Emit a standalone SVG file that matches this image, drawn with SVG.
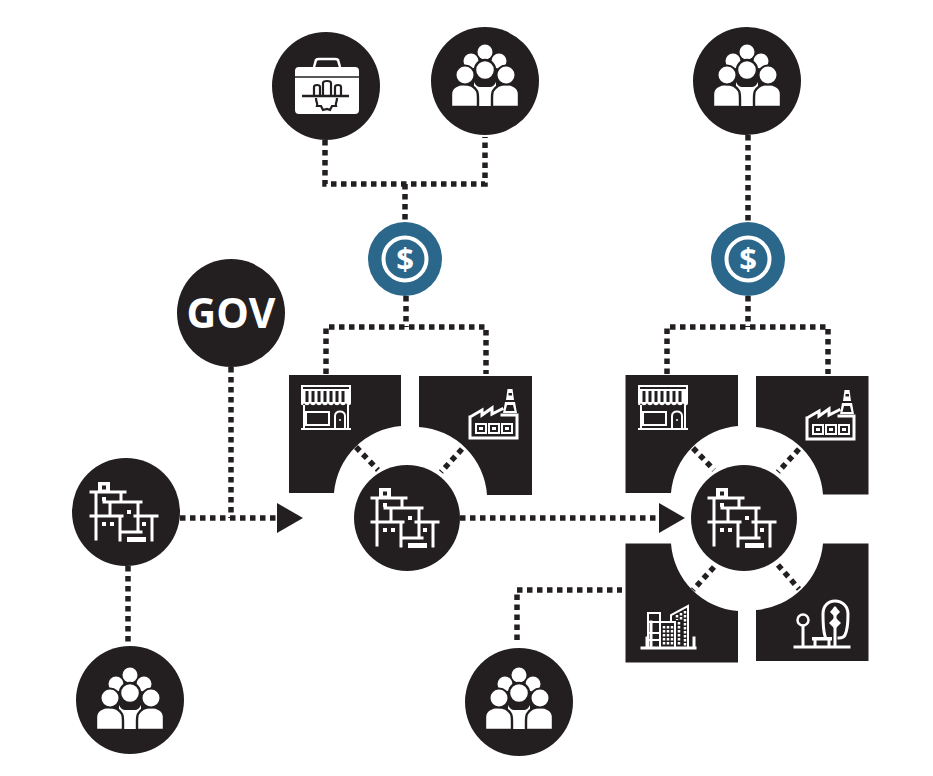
<svg xmlns="http://www.w3.org/2000/svg" xmlns:xlink="http://www.w3.org/1999/xlink" width="933" height="776" viewBox="0 0 933 776">
<style>
.k{fill:#231f20}
.b{fill:#2b678b}
.w{fill:#fff}
.s{fill:none;stroke:#fff;stroke-width:3;stroke-linecap:square}
.t{fill:none;stroke:#fff;stroke-width:2}
.d{fill:none;stroke:#231f20;stroke-width:5.5;stroke-dasharray:5.5 4.5}
.g{font-family:"Open Sans","DejaVu Sans",sans-serif;font-weight:700;text-anchor:middle}
</style>
<defs>
<g id="people">
<circle cx="0" cy="-29" r="7.5" class="w"/>
<circle cx="-14" cy="-20" r="7.5" class="w"/>
<circle cx="14" cy="-20" r="7.5" class="w"/>
<path class="w" d="M-11 1C-10 4-7 6-5 6H5C7 6 10 4 11 1L11 25H-11Z"/>
<path class="w" stroke="#231f20" stroke-width="2.4" d="M-34 26V13C-34 6-27 3-21 3C-15 3-11 5-8 10C-7 12-7 15-7 18V26Z"/>
<path class="w" stroke="#231f20" stroke-width="2.4" d="M34 26V13C34 6 27 3 21 3C15 3 11 5 8 10C7 12 7 15 7 18V26Z"/>
<circle cx="-20" cy="-6" r="9.5" class="w" stroke="#231f20" stroke-width="2"/>
<circle cx="21" cy="-6" r="9.5" class="w" stroke="#231f20" stroke-width="2"/>
<circle cx="0" cy="-11" r="10" class="w" stroke="#231f20" stroke-width="2.4"/>
</g>
<g id="village">
<rect x="-28" y="-30" width="12" height="11" class="w"/>
<rect x="-24" y="-26.500" width="4" height="4" class="k"/>
<path class="s" d="M-35-20H-1M-30-20V27M-5-20V-10M-22-10H15M-16-10V1M-35 4H-4M9 4H31M-6 4V28M12-10V20M26 4V28M-6 20H15"/>
<rect x="1" y="25" width="19" height="5" class="w"/>
<rect x="-24" y="-15" width="4" height="4" class="w"/>
<rect x="1" y="-2" width="4" height="4" class="w"/>
<rect x="-24" y="10" width="4" height="4" class="w"/>
<rect x="-16" y="10" width="4" height="4" class="w"/>
<rect x="16" y="10" width="4" height="4" class="w"/>
</g>
<g id="shop">
<path class="t" d="M-22-3V21M22-3V21M-25 21H25"/>
<path class="t" d="M-24-22H24V-18H-24Z"/>
<path class="w" d="M-25-18H25L25-5C25-2 21-2 20-5C19-2 15-2 14-5C13-2 9-2 8-5C7-2 3-2 2-5C1-2-3-2-4-5C-5-2-9-2-10-5C-11-2-15-2-16-5C-17-2-21-2-22-5C-23-2-25-2-25-5Z"/>
<path stroke="#231f20" stroke-width="3" stroke-dasharray="none" d="M-19-17V-6M-13-17V-6M-7-17V-6M-1-17V-6M5-17V-6M11-17V-6M17-17V-6" fill="none"/>
<rect x="-20" y="4" width="23" height="13" class="t"/>
<path class="t" d="M9 21V8C9 2 19 2 19 8V21"/>
<circle cx="14" cy="12" r="1" class="w"/>
</g>
<g id="factory">
<path class="s" stroke-width="2.500" d="M-24 18V-3L-12-10V-5L-2-12V-6L8-11M-24-3V18H23V-5H8"/>
<path class="w" d="M9-7L11-18H21L23-7Z"/>
<path class="k" d="M11.500-9L13-15H19L20.500-9Z"/>
<path class="w" d="M12-20L13.500-31H18.500L20-20Z"/>
<rect x="14.500" y="-27" width="3.500" height="2.500" class="k"/>
<rect x="-18" y="4" width="10" height="9" class="t"/><rect x="-15" y="7" width="4" height="3" class="w"/>
<rect x="-5" y="4" width="10" height="9" class="t"/><rect x="-2" y="7" width="4" height="3" class="w"/>
<rect x="8" y="4" width="10" height="9" class="t"/><rect x="11" y="7" width="4" height="3" class="w"/>
</g>
<g id="city">
<path class="s" d="M-26 18H27M-17-8V18M-21 17V8M26 17V8"/>
<rect x="-20" y="-17" width="12" height="35" class="t"/>
<path class="t" d="M-20-8H-8M-20 3H-8M-20 10H-8"/>
<rect x="-8" y="-8" width="15" height="26" class="t"/>
<path class="t" d="M3-9V-15L20-24V18"/>
<path stroke="#fff" stroke-width="2.500" stroke-dasharray="2.500 1.500" fill="none" d="M-4-4V16M0-4V16M4-4V16M9-15V-10M13-17V-10M17-19V16M11-8V16"/>
</g>
<g id="park">
<path class="s" d="M-21 15H33M-13-6V15M-1 7V15M13 7V15"/>
<circle cx="-13" cy="-12" r="5.500" fill="none" stroke="#fff" stroke-width="2.500"/>
<rect x="-4" y="5" width="20" height="3.500" class="w"/>
<path class="s" stroke-width="2.500" d="M9 4C7-2 7-10 7-18C7-26 12-31 19-31C26-31 32-26 32-18C32-9 31-1 29 3C28 5 25 6 23 6"/>
<path class="s" stroke-width="2.500" d="M19-23V14"/>
<path class="w" d="M19-26L24-20L19-15L14-20ZM19-15L25-9L19-3L13-9Z"/>
</g>
<g id="dollar">
<circle cx="0" cy="0" r="21.500" fill="none" stroke="#fff" stroke-width="4"/>
<text x="0" y="11" class="g" font-size="31" fill="#fff">$</text>
</g>
</defs>
<rect width="933" height="776" fill="#fff"/>
<g id="connectors">
<path class="d" d="M325 140V184H485V137M405 184V222"/>
<path class="d" d="M406 296V327M326 374V327H486V374"/>
<path class="d" d="M748 135V222M748 296V327M667 374V327H828V374"/>
<path class="d" d="M231 367V518M180 518H277"/>
<path class="d" d="M460 518H659"/>
<path class="d" d="M128 566V645"/>
<path class="d" d="M517 640V590H622"/>
<path class="d" d="M356 447L378 470M462 449L441 472"/>
<path class="d" d="M693 448L714 470M799 449L778 472M714 567L693 590M778 565L799 589"/>
<path class="k" d="M277 503L303 518L277 533Z"/>
<path class="k" d="M659 503L685 518L659 533Z"/>
</g>
<g id="toolbox"><circle cx="326" cy="86" r="54" class="k"/>
<g transform="translate(326,86)">
<path d="M-12-19L-10-26Q-9-27-7-27H9Q11-27 12-26L14-19" fill="none" stroke="#fff" stroke-width="2.500"/>
<rect x="-31" y="-19" width="64" height="47" rx="4" class="w"/>
<path d="M-31-9H33" stroke="#231f20" stroke-width="1.500"/>
<path d="M-24 10H23" stroke="#231f20" stroke-width="2.500"/>
<path d="M-12 9V1Q-12-1-9-1Q-6-1-6 1V9M-3 9V-3Q-3-5 1-5Q5-5 5-3V9M9 9V1Q9-1 12-1Q15-1 15 1V9" fill="none" stroke="#231f20" stroke-width="2.200"/>
<path d="M-10 12C-10 17-8 17-9 20L-5 20L-3 24L1 23L4 24L6 20L10 20C9 17 11 17 11 12" fill="none" stroke="#231f20" stroke-width="2.200"/>
</g></g>
<g id="people-1"><circle cx="485" cy="81" r="54" class="k"/><use href="#people" x="485" y="81"/></g>
<g id="people-2"><circle cx="747" cy="81" r="54" class="k"/><use href="#people" x="747" y="81"/></g>
<g id="fund-1"><circle cx="405" cy="259" r="37" class="b"/><use href="#dollar" x="405" y="259"/></g>
<g id="fund-2"><circle cx="748" cy="259" r="37" class="b"/><use href="#dollar" x="748" y="259"/></g>
<g id="gov"><circle cx="231" cy="313" r="54" class="k"/><text x="231" y="328" class="g" font-size="41" fill="#fff">GOV</text></g>
<g id="neighbourhood-left"><circle cx="126" cy="512" r="54" class="k"/><use href="#village" x="126" y="512"/></g>
<g id="people-3"><circle cx="130" cy="700" r="54" class="k"/><use href="#people" x="130" y="704"/></g>
<g id="people-4"><circle cx="519" cy="702" r="54" class="k"/><use href="#people" x="519" y="704"/></g>
<g id="shop-1"><path class="k" d="M289 375H401V426A73 73 0 0 0 334 493H289Z"/><use href="#shop" x="326" y="408"/></g>
<g id="factory-1"><path class="k" d="M419 376H532V495H487A73 73 0 0 0 419 427Z"/><use href="#factory" x="494" y="420"/></g>
<g id="neighbourhood-mid"><circle cx="407" cy="518" r="53" class="k"/><use href="#village" x="407" y="518"/></g>
<g id="shop-2"><path class="k" d="M625.500 375H738V426A73 73 0 0 0 671 493H625.500Z"/><use href="#shop" x="663" y="408"/></g>
<g id="factory-2"><path class="k" d="M756 376H868.500V494.500H823A73 73 0 0 0 756 427Z"/><use href="#factory" x="831" y="421"/></g>
<g id="city-block"><path class="k" d="M625.500 543.500H671A73 73 0 0 0 738 611V662.500H625.500Z"/><use href="#city" x="668" y="630"/></g>
<g id="park-block"><path class="k" d="M823 543.500H868.500V661H756V610A73 73 0 0 0 823 543.500Z"/><use href="#park" x="816" y="632"/></g>
<g id="neighbourhood-right"><circle cx="744" cy="518" r="53" class="k"/><use href="#village" x="744" y="518"/></g>
</svg>
